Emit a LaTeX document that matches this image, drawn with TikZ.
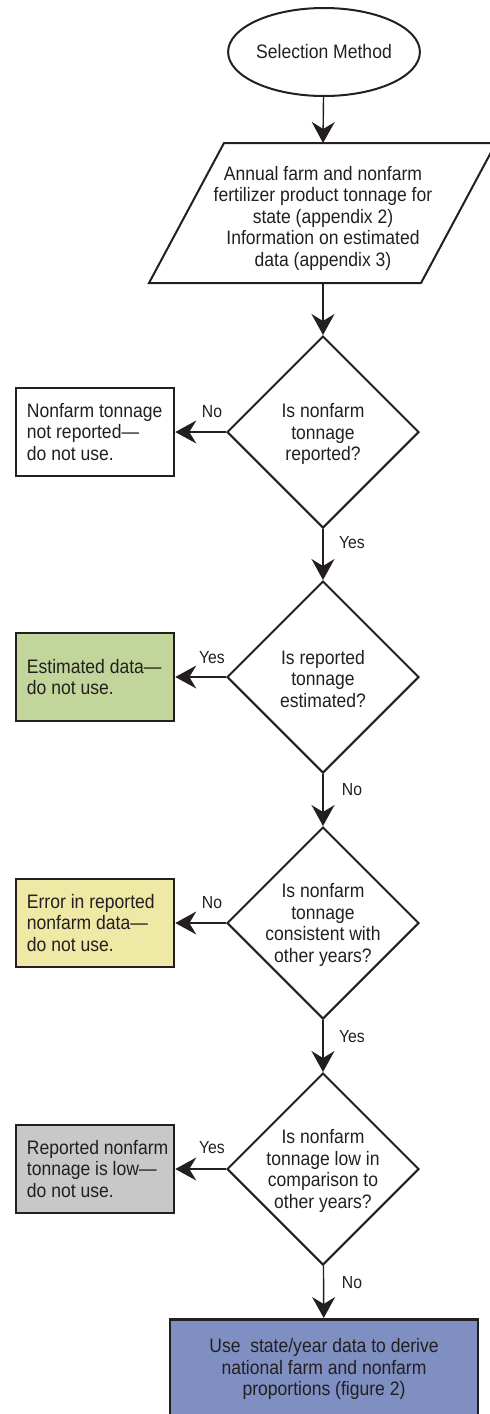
\documentclass[tikz,border=0pt]{standalone}
\usepackage{fontspec}
\setmainfont{Liberation Sans}[FakeStretch=0.9]
\usetikzlibrary{shapes.geometric,arrows.meta}
\definecolor{ink}{HTML}{231F20}
\definecolor{fgreen}{HTML}{C2D69B}
\definecolor{fyellow}{HTML}{EEE9A5}
\definecolor{fgray}{HTML}{C8C8C8}
\definecolor{fblue}{HTML}{7F8FC2}
\tikzset{
  txt/.style={font=\fontsize{19.5}{21.5}\selectfont, text=ink},
  lbl/.style={font=\fontsize{17.5}{20}\selectfont, text=ink, inner sep=0pt},
  oval/.style={ellipse, draw=ink, line width=2pt, minimum width=182pt, minimum height=88pt, inner sep=0pt, txt},
  paraline/.style={draw=ink, line width=2pt, line join=miter},
  dec/.style={diamond, draw=ink, line width=2pt, minimum width=192pt, minimum height=192pt, inner sep=1pt},
  ctxt/.style={txt, align=center, inner sep=0pt},
  endbox/.style={rectangle, draw=ink, line width=2.6pt, minimum width=158pt, minimum height=88pt, inner sep=0pt},
  boxtxt/.style={txt, align=left, anchor=west, inner sep=0pt},
  conn/.style={draw=ink, line width=1.4pt, -{Stealth[length=21pt,width=23pt,inset=7pt]}},
}
\begin{document}
\begin{tikzpicture}[x=1pt,y=-1pt]
\useasboundingbox (0,0) rectangle (490,1414);
\clip (0,0) rectangle (490,1414);
% start and input
\node[oval] (start) at (324,52) {Selection Method};
\coordinate (pBL) at (149,283);
\coordinate (pBR) at (421,283);
\coordinate (pTR) at (496,143);
\coordinate (pTL) at (224,143);
\draw[paraline] (pBL) -- (pBR) -- (pTR) -- (pTL) -- cycle;
\coordinate (inTop) at (323,143);
\coordinate (inBot) at (323,283);
\node[ctxt] (input) at (323,218) {Annual farm and nonfarm\\fertilizer product tonnage for\\state (appendix 2)\\Information on estimated\\data (appendix 3)};
% decisions
\node[dec] (d1) at (323,432) {\strut};
\node[ctxt] (td1) at (323,434) {Is nonfarm\\tonnage\\reported?};
\node[dec] (d2) at (323,677) {\strut};
\node[ctxt] (td2) at (323,679) {Is reported\\tonnage\\estimated?};
\node[dec] (d3) at (323,923) {\strut};
\node[ctxt] (td3) at (323,925) {Is nonfarm\\tonnage\\consistent with\\other years?};
\node[dec] (d4) at (323,1169) {\strut};
\node[ctxt] (td4) at (323,1171) {Is nonfarm\\tonnage low in\\comparison to\\other years?};
% side boxes
\node[endbox, fill=white] (b1) at (95,432) {};
\node[boxtxt] (t1) at ([xshift=12pt]b1.west) {Nonfarm tonnage\\not reported—\\do not use.};
\node[endbox, fill=fgreen] (b2) at (95,677) {};
\node[boxtxt] (t2) at ([xshift=12pt]b2.west) {Estimated data—\\do not use.};
\node[endbox, fill=fyellow] (b3) at (95,923) {};
\node[boxtxt] (t3) at ([xshift=12pt]b3.west) {Error in reported\\nonfarm data—\\do not use.};
\node[endbox, fill=fgray] (b4) at (95,1169) {};
\node[boxtxt] (t4) at ([xshift=12pt]b4.west) {Reported nonfarm\\tonnage is low—\\do not use.};
% final box
\node[rectangle, draw=ink, fill=fblue, line width=2.6pt, minimum width=308pt, minimum height=100pt, anchor=north, txt, align=center, inner sep=0pt] (fin) at (324,1318) {Use\ \ state/year data to derive\\national farm and nonfarm\\proportions (figure 2)};
% connectors
\draw[conn] (start) -- (inTop);
\draw[conn] (inBot) -- (d1);
\draw[conn] (d1) -- (d2);
\draw[conn] (d2) -- (d3);
\draw[conn] (d3) -- (d4);
\draw[conn] (d4) -- (fin);
\draw[conn] (d1.west) -- (b1.east);
\draw[conn] (d2.west) -- (b2.east);
\draw[conn] (d3.west) -- (b3.east);
\draw[conn] (d4.west) -- (b4.east);
% labels
\node[lbl] (l1) at (212,412) {No};
\node[lbl] (l2) at (352,543) {Yes};
\node[lbl] (l3) at (212,658) {Yes};
\node[lbl] (l4) at (352,790) {No};
\node[lbl] (l5) at (212,903) {No};
\node[lbl] (l6) at (352,1037) {Yes};
\node[lbl] (l7) at (212,1148) {Yes};
\node[lbl] (l8) at (352,1283) {No};
\end{tikzpicture}
\end{document}
